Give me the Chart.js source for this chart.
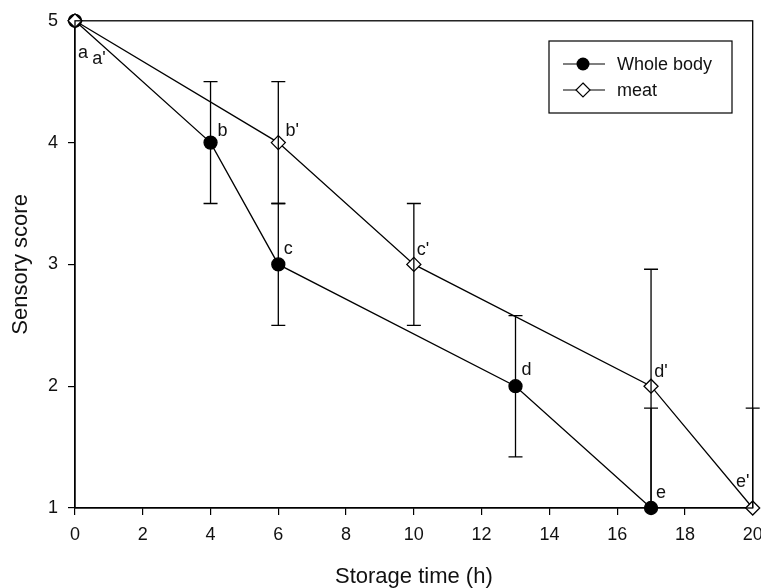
<!DOCTYPE html>
<html>
<head>
<meta charset="utf-8">
<script src="https://cdn.jsdelivr.net/npm/chart.js@4.4.0/dist/chart.umd.min.js"></script>
<style>
  html, body { margin: 0; padding: 0; background: #fff; }
  #wrap { width: 761px; height: 588px; }
</style>
</head>
<body>
<div id="wrap"><canvas id="sensoryChart" width="761" height="588"></canvas></div>
<script>
const wholeX = [0, 4, 6, 13, 17];
const wholeY = [5, 4, 3, 2, 1];
const wholeErr = [0, 0.5, 0.5, 0.58, 0.82];
const wholeTags = ['a', 'b', 'c', 'd', 'e'];

const meatX = [0, 6, 10, 17, 20];
const meatY = [5, 4, 3, 2, 1];
const meatErr = [0, 0.5, 0.5, 0.96, 0.82];
const meatTags = ["a'", "b'", "c'", "d'", "e'"];

const xTicks = [0, 2, 4, 6, 8, 10, 12, 14, 16, 18, 20];
const yTicks = [1, 2, 3, 4, 5];

const FONT = 'Liberation Sans, Arial, sans-serif';
const toPoints = (xs, ys) => xs.map((x, i) => ({ x: x, y: ys[i] }));

// label offsets (px) relative to each marker
const wholeOffsets = [[8, 32], [12, -12], [10, -15], [11, -16], [10, -15]];
const meatOffsets = [[24, 38], [14, -12], [9, -14], [10, -14], [-10, -26]];

const extras = {
    id: 'extras',
    afterDatasetsDraw(chart) {
        const c = chart.ctx;
        const xs = chart.scales.x, ys = chart.scales.y;
        const area = chart.chartArea;
        c.save();
        c.strokeStyle = '#000';
        c.lineWidth = 1.3;
        // frame
        c.strokeRect(area.left, area.top, area.right - area.left, area.bottom - area.top);
        // error bars
        const bars = (xArr, yArr, eArr) => {
            xArr.forEach((x, i) => {
                if (!eArr[i]) return;
                const px = xs.getPixelForValue(x);
                const hi = ys.getPixelForValue(yArr[i] + eArr[i]);
                const lo = ys.getPixelForValue(Math.max(yArr[i] - eArr[i], ys.min));
                c.beginPath();
                c.moveTo(px, hi); c.lineTo(px, lo);
                c.moveTo(px - 7, hi); c.lineTo(px + 7, hi);
                if (yArr[i] - eArr[i] > ys.min + 0.05) {
                    c.moveTo(px - 7, lo); c.lineTo(px + 7, lo);
                }
                c.stroke();
            });
        };
        bars(wholeX, wholeY, wholeErr);
        bars(meatX, meatY, meatErr);
        // letters
        c.fillStyle = '#111';
        c.font = '18px ' + FONT;
        c.textAlign = 'center';
        c.textBaseline = 'middle';
        const tags = (xArr, yArr, tArr, off) => {
            xArr.forEach((x, i) => {
                const px = xs.getPixelForValue(x) + off[i][0];
                const py = ys.getPixelForValue(yArr[i]) + off[i][1];
                c.fillText(tArr[i], px, py);
            });
        };
        tags(wholeX, wholeY, wholeTags, wholeOffsets);
        tags(meatX, meatY, meatTags, meatOffsets);
        // legend
        const lx = 549, ly = 41, lw = 183, lh = 72;
        c.lineWidth = 1.2;
        c.strokeRect(lx, ly, lw, lh);
        const rows = [
            { y: ly + 23, text: 'Whole body', circle: true },
            { y: ly + 49, text: 'meat', circle: false }
        ];
        c.font = '18px ' + FONT;
        c.textAlign = 'left';
        rows.forEach((r) => {
            c.beginPath();
            c.moveTo(lx + 14, r.y); c.lineTo(lx + 56, r.y);
            c.stroke();
            c.beginPath();
            if (r.circle) {
                c.arc(lx + 34, r.y, 6.5, 0, Math.PI * 2);
                c.fillStyle = '#000';
                c.fill();
            } else {
                c.moveTo(lx + 34, r.y - 7); c.lineTo(lx + 41, r.y);
                c.lineTo(lx + 34, r.y + 7); c.lineTo(lx + 27, r.y);
                c.closePath();
                c.fillStyle = '#fff';
                c.fill();
                c.stroke();
            }
            c.fillStyle = '#111';
            c.fillText(r.text, lx + 68, r.y + 1);
        });
        c.restore();
    }
};

new Chart(document.getElementById('sensoryChart'), {
    type: 'scatter',
    data: {
        datasets: [{
            label: 'Whole body',
            data: toPoints(wholeX, wholeY),
            order: 2,
            showLine: true,
            borderColor: '#000',
            borderWidth: 1.3,
            pointStyle: 'circle',
            pointRadius: 6.5,
            pointBackgroundColor: '#000',
            pointBorderColor: '#000',
            clip: false
        }, {
            label: 'meat',
            data: toPoints(meatX, meatY),
            order: 1,
            showLine: true,
            borderColor: '#000',
            borderWidth: 1.3,
            pointStyle: 'rectRot',
            pointRadius: 7,
            pointBackgroundColor: '#fff',
            pointBorderColor: '#000',
            pointBorderWidth: 1.3,
            clip: false
        }]
    },
    options: {
        responsive: false,
        animation: false,
        layout: { padding: { top: 20, right: 8, left: 0, bottom: 0 } },
        plugins: { legend: { display: false }, tooltip: { enabled: false } },
        scales: {
            x: {
                type: 'linear',
                min: 0, max: 20,
                afterBuildTicks: (s) => { s.ticks = xTicks.map((v) => ({ value: v })); },
                afterFit: (s) => { s.height = 80; s.paddingRight = 0; s.paddingLeft = 0; },
                grid: { drawOnChartArea: false, tickLength: 7, color: '#000', lineWidth: 1.2 },
                border: { display: true, color: '#000', width: 1.3 },
                ticks: { color: '#111', font: { family: FONT, size: 18 }, padding: 9, maxRotation: 0 },
                title: { display: true, text: 'Storage time (h)', color: '#111', font: { family: FONT, size: 22 }, padding: { top: 0, bottom: -2 } }
            },
            y: {
                type: 'linear',
                min: 1, max: 5,
                afterBuildTicks: (s) => { s.ticks = yTicks.map((v) => ({ value: v })); },
                afterFit: (s) => { s.width = 75; },
                grid: { drawOnChartArea: false, tickLength: 7, color: '#000', lineWidth: 1.2 },
                border: { display: true, color: '#000', width: 1.3 },
                ticks: { color: '#111', font: { family: FONT, size: 18 }, padding: 10 },
                title: { display: true, text: 'Sensory score', color: '#111', font: { family: FONT, size: 22 }, padding: { top: 8, bottom: 0 } }
            }
        }
    },
    plugins: [extras]
});
</script>
</body>
</html>
